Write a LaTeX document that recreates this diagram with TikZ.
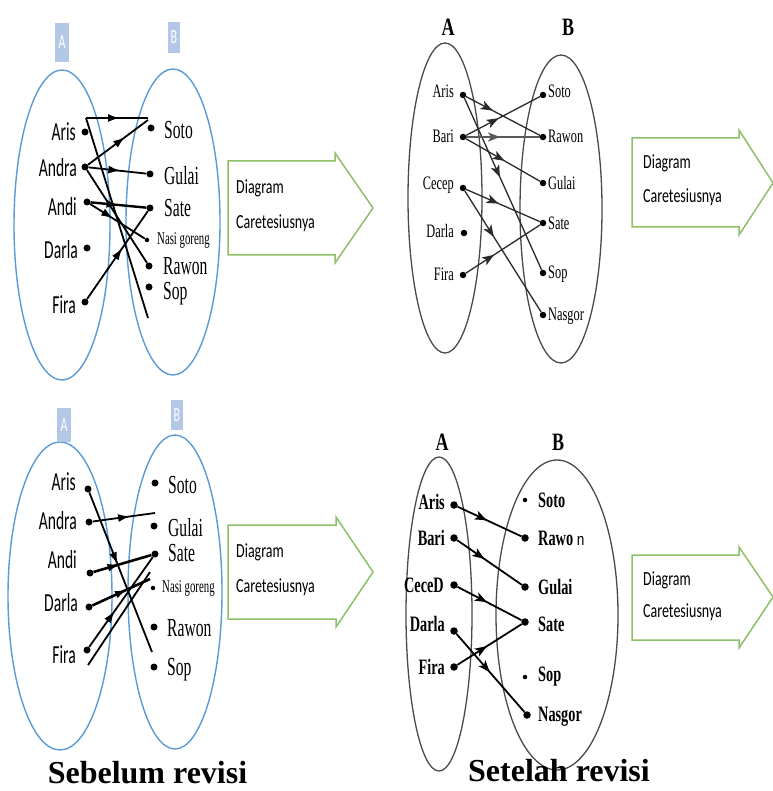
\documentclass[tikz,border=0pt]{standalone}
\usepackage{fontspec}
\usetikzlibrary{decorations.markings,arrows.meta}

% condensed faces for the set members and labels
\newfontfamily\lsans{Carlito}[FakeStretch=0.6]
\newfontfamily\boxsans{Carlito}[FakeStretch=0.7]
\newfontfamily\lserif{Liberation Serif}[FakeStretch=0.6]
\newfontfamily\rserif{Liberation Serif}[FakeStretch=0.65]
\newfontfamily\hserif{Liberation Serif}[FakeStretch=0.72]
\newfontfamily\tserif{Liberation Serif}
\newfontfamily\nsans{Liberation Sans}[FakeStretch=0.8]

\definecolor{vennblue}{HTML}{5B9BD5}
\definecolor{tagblue}{HTML}{B4C7E7}
\definecolor{arrowgreen}{HTML}{8CC168}
\definecolor{ringgray}{HTML}{4A4A4A}
\definecolor{linkgray}{HTML}{2A2A2A}

\tikzset{
  dot/.style={circle, fill=black, inner sep=0pt, minimum size=7pt},
  smalldot/.style={dot, minimum size=4.5pt},
  tag/.style={fill=tagblue, text=white, inner sep=0pt, minimum width=14pt,
    font=\lsans\fontsize{20}{20}\selectfont},
  lname/.style={anchor=east, inner sep=0pt, font=\lsans\fontsize{26}{26}\selectfont},
  rname/.style={anchor=west, inner sep=0pt, font=\lserif\fontsize{26}{26}\selectfont},
  nasi/.style={anchor=west, inner sep=0pt, font=\lserif\fontsize{18}{18}\selectfont},
  gname/.style={inner sep=0pt, font=\rserif\fontsize{19}{19}\selectfont},
  bname/.style={inner sep=0pt, font=\rserif\bfseries\fontsize{22}{22}\selectfont},
  head/.style={inner sep=0pt, font=\hserif\bfseries\fontsize{25}{25}\selectfont},
  boxtext/.style={anchor=west, inner sep=0pt, font=\boxsans\fontsize{20}{20}\selectfont},
  title/.style={anchor=base, inner sep=0pt, font=\tserif\bfseries\fontsize{32}{32}\selectfont},
  bluering/.style={draw=vennblue, line width=1.4pt},
  grayring/.style={draw=ringgray, line width=1.3pt},
  greenarrow/.style={draw=arrowgreen, line width=1.5pt, line join=miter},
  link/.style={draw=black, line width=1.8pt},
  glink/.style={draw=linkgray, line width=1.3pt},
  midarrow/.style={postaction={decorate}, decoration={markings,
    mark=at position #1 with {\arrow{Latex[length=12pt,width=8pt]}}}},
  midarrow/.default=0.5,
  stealthmid/.style={postaction={decorate}, decoration={markings,
    mark=at position #1 with {\arrow{Stealth[length=12pt,width=9pt,inset=3pt]}}}},
  stealthmid/.default=0.45,
}

\begin{document}
\begin{tikzpicture}[x=1pt, y=-1pt]
\useasboundingbox (0,0) rectangle (772,791);
\fill[white] (0,0) rectangle (772,791);

% ---------------- before revision, first version ----------------
\draw[bluering] (62,225) ellipse [x radius=48pt, y radius=155pt];
\draw[bluering] (173,222) ellipse [x radius=47pt, y radius=153pt];
\node[tag, minimum height=39pt] (tlTagA) at (62,42.5) {A};
\node[tag, minimum width=12pt, minimum height=31pt] (tlTagB) at (174,37.5) {B};

\node[lname] (tlArisT)  at (76,132) {Aris};
\node[lname] (tlAndraT) at (77,168) {Andra};
\node[lname] (tlAndiT)  at (77,207) {Andi};
\node[lname] (tlDarlaT) at (78,250) {Darla};
\node[lname] (tlFiraT)  at (76,305) {Fira};
\node[dot] (tlAris)  at (85,132) {};
\node[dot] (tlAndra) at (85,167) {};
\node[dot] (tlAndi)  at (87,202) {};
\node[dot] (tlDarla) at (87,248) {};
\node[dot] (tlFira)  at (85,302) {};

\node[rname] (tlSotoT)  at (164,130) {Soto};
\node[rname] (tlGulaiT) at (164,176) {Gulai};
\node[rname] (tlSateT)  at (164,208) {Sate};
\node[nasi]  (tlNasiT)  at (157,240) {Nasi goreng};
\node[rname] (tlRawonT) at (163,266) {Rawon};
\node[rname] (tlSopT)   at (163,294) {Sop};
\node[dot] (tlSoto)  at (151,128) {};
\node[dot] (tlGulai) at (150,174) {};
\node[dot] (tlSate)  at (150,208) {};
\node[smalldot] (tlNasi) at (147,240) {};
\node[dot] (tlRawon) at (149,266) {};
\node[dot] (tlSop)   at (149,287) {};

\coordinate (tlArisTop) at (86,118);
\coordinate (tlSotoTop) at (148,118);
\coordinate (tlSotoIn) at (148,120);
\coordinate (tlLowEnd) at (148,318);
\draw[link, line width=2.4pt, midarrow=0.55] (tlArisTop) -- (tlSotoTop);
\draw[link] (tlArisTop) -- (tlLowEnd);
\draw[link, midarrow=0.62] (tlAndra) -- (tlSotoIn);
\draw[link, midarrow=0.55] (tlAndra) -- (tlGulai);
\draw[link] (tlAndra) -- (tlRawon);
\draw[link, line width=2.4pt, midarrow=0.5] (tlAndi) -- (tlSate);
\draw[link, midarrow=0.42] (tlAndi) -- (tlNasi);
\draw[link, midarrow=0.58] (tlFira) -- (tlSate);

\draw[greenarrow] (228,161) -- (335,161) -- (335,153) -- (373,208)
  -- (335,263) -- (335,255) -- (228,255) -- cycle;
\node[boxtext] (tlBox1) at (236,188) {Diagram};
\node[boxtext] (tlBox2) at (236,223) {Caretesiusnya};

% ---------------- after revision, first version ----------------
\node[head] (trHeadA) at (448,27) {A};
\node[head] (trHeadB) at (568,27) {B};
\draw[grayring] (445,198) ellipse [x radius=37pt, y radius=155pt];
\draw[grayring] (561,209) ellipse [x radius=41pt, y radius=154pt];

\node[gname, anchor=east] (trArisT)  at (454,91) {Aris};
\node[gname, anchor=east] (trBariT)  at (454,136) {Bari};
\node[gname, anchor=east] (trCecepT) at (454,185) {Cecep};
\node[gname, anchor=east] (trDarlaT) at (454,231) {Darla};
\node[gname, anchor=east] (trFiraT)  at (454,274) {Fira};
\node[dot, minimum size=6.5pt] (trAris)  at (463,95) {};
\node[dot, minimum size=6.5pt] (trBari)  at (463,137) {};
\node[dot, minimum size=6.5pt] (trCecep) at (463,188) {};
\node[dot, minimum size=6.5pt] (trDarla) at (464,233) {};
\node[dot, minimum size=6.5pt] (trFira)  at (463,275) {};

\node[gname, anchor=west] (trSotoT)   at (548,91) {Soto};
\node[gname, anchor=west] (trRawonT)  at (548,136) {Rawon};
\node[gname, anchor=west] (trGulaiT)  at (548,183) {Gulai};
\node[gname, anchor=west] (trSateT)   at (548,223) {Sate};
\node[gname, anchor=west] (trSopT)    at (548,274) {Sop};
\node[gname, anchor=west] (trNasgorT) at (548,316) {Nasgor};
\node[dot, minimum size=6.5pt] (trSoto)   at (543,95) {};
\node[dot, minimum size=6.5pt] (trRawon)  at (543,137) {};
\node[dot, minimum size=6.5pt] (trGulai)  at (543,183) {};
\node[dot, minimum size=6.5pt] (trSate)   at (543,223) {};
\node[dot, minimum size=6.5pt] (trSop)    at (543,273) {};
\node[dot, minimum size=6.5pt] (trNasgor) at (543,315) {};

\draw[glink, stealthmid=0.36] (trAris) -- (trRawon);
\draw[glink, stealthmid=0.46] (trAris) -- (trSop);
\draw[glink, stealthmid=0.44] (trBari) -- (trSoto);
\draw[glink, draw=gray!70!black, line width=2.4pt, stealthmid=0.46] (trBari) -- (trRawon);
\draw[glink, stealthmid=0.52] (trBari) -- (trGulai);
\draw[glink, stealthmid=0.44] (trCecep) -- (trSate);
\draw[glink, stealthmid=0.38] (trCecep) -- (trNasgor);
\draw[glink, stealthmid=0.38] (trFira) -- (trSate);

\draw[greenarrow] (632,138) -- (739,138) -- (739,130) -- (773,183)
  -- (739,235) -- (739,227) -- (632,227) -- cycle;
\node[boxtext] (trBox1) at (643,163) {Diagram};
\node[boxtext] (trBox2) at (643,197) {Caretesiusnya};

% ---------------- before revision, second version ----------------
\draw[bluering] (60,596) ellipse [x radius=52pt, y radius=154pt];
\draw[bluering] (175,592) ellipse [x radius=47pt, y radius=157pt];
\node[tag, minimum height=34pt] (blTagA) at (64,425) {A};
\node[tag, minimum width=12pt, minimum height=30pt] (blTagB) at (177,415) {B};

\node[lname] (blArisT)  at (76,482) {Aris};
\node[lname] (blAndraT) at (77,521) {Andra};
\node[lname] (blAndiT)  at (77,560) {Andi};
\node[lname] (blDarlaT) at (78,603) {Darla};
\node[lname] (blFiraT)  at (76,655) {Fira};
\node[dot] (blAris)  at (88,489) {};
\node[dot] (blAndra) at (89,522) {};
\node[dot] (blAndi)  at (90,573) {};
\node[dot] (blDarla) at (89,607) {};
\node[dot] (blFira)  at (87,650) {};

\node[rname] (blSotoT)  at (168,485) {Soto};
\node[rname] (blGulaiT) at (168,528) {Gulai};
\node[rname] (blSateT)  at (168,553) {Sate};
\node[nasi]  (blNasiT)  at (162,588) {Nasi goreng};
\node[rname] (blRawonT) at (167,628) {Rawon};
\node[rname] (blSopT)   at (167,670) {Sop};
\node[dot] (blSoto)  at (155,483) {};
\node[dot] (blGulai) at (154,526) {};
\node[dot] (blSate)  at (155,554) {};
\node[smalldot] (blNasi) at (153,588) {};
\node[dot] (blRawon) at (154,627) {};
\node[dot] (blSop)   at (154,667) {};

\coordinate (blEndA) at (152,652);
\coordinate (blEndB) at (155,513);
\coordinate (blEndC) at (150,579);
\coordinate (blFiraLow) at (88,665);
\coordinate (blEndD) at (150,572);
\draw[link, midarrow=0.45] (blAris) -- (blEndA);
\draw[link, midarrow=0.6] (blAndra) -- (blEndB);
\draw[link, line width=2.6pt, midarrow=0.45] (blAndi) -- (blSate);
\draw[link, line width=2.6pt, midarrow=0.6] (blDarla) -- (blEndC);
\draw[link, midarrow=0.4] (blFira) -- (blSate);
\draw[link] (blFiraLow) -- (blEndD);

\draw[greenarrow] (228,525) -- (336,525) -- (336,517) -- (373,572)
  -- (336,627) -- (336,619) -- (228,619) -- cycle;
\node[boxtext] (blBox1) at (236,552) {Diagram};
\node[boxtext] (blBox2) at (236,587) {Caretesiusnya};

% ---------------- after revision, second version ----------------
\node[head] (brHeadA) at (442,442) {A};
\node[head] (brHeadB) at (558,442) {B};
\draw[grayring] (439,614) ellipse [x radius=33pt, y radius=157pt];
\draw[grayring] (557,615) ellipse [x radius=61pt, y radius=155pt];

\node[bname, anchor=east] (brArisT)  at (445,502) {Aris};
\node[bname, anchor=east] (brBariT)  at (445,538) {Bari};
\node[bname, anchor=east] (brCeceT)  at (444,585) {CeceD};
\node[bname, anchor=east] (brDarlaT) at (445,624) {Darla};
\node[bname, anchor=east] (brFiraT)  at (445,667) {Fira};
\node[dot, minimum size=7.5pt] (brAris)  at (454,505) {};
\node[dot, minimum size=7.5pt] (brBari)  at (454,538) {};
\node[dot, minimum size=7.5pt] (brCece)  at (454,585) {};
\node[dot, minimum size=7.5pt] (brDarla) at (454,631) {};
\node[dot, minimum size=7.5pt] (brFira)  at (454,667) {};

\node[bname, anchor=west] (brSotoT)   at (538,500) {Soto};
\node[bname, anchor=west] (brRawonT)  at (538,538) {Rawo\,{\nsans\mdseries\fontsize{17}{17}\selectfont n}};
\node[bname, anchor=west] (brGulaiT)  at (538,587) {Gulai};
\node[bname, anchor=west] (brSateT)   at (538,624) {Sate};
\node[bname, anchor=west] (brSopT)    at (538,677) {Sop};
\node[bname, anchor=west] (brNasgorT) at (538,717) {Nasgor};
\node[smalldot] (brSoto)   at (525,500) {};
\node[dot, minimum size=7.5pt] (brRawon)  at (525,538) {};
\node[dot, minimum size=7.5pt] (brGulai)  at (525,587) {};
\node[dot, minimum size=7.5pt] (brSate)   at (525,622) {};
\node[smalldot] (brSop)    at (525,677) {};
\node[dot, minimum size=7.5pt] (brNasgor) at (527,715) {};

\draw[link, line width=1.8pt, stealthmid=0.46] (brAris) -- (brRawon);
\draw[link, line width=1.8pt, stealthmid=0.42] (brBari) -- (brGulai);
\draw[link, line width=1.8pt, stealthmid=0.46] (brCece) -- (brSate);
\draw[link, line width=1.8pt, stealthmid=0.46] (brFira) -- (brSate);
\draw[link, line width=1.8pt, stealthmid=0.49] (brDarla) -- (brNasgor);

\draw[greenarrow] (632,555) -- (739,555) -- (739,547) -- (773,597)
  -- (739,648) -- (739,640) -- (632,640) -- cycle;
\node[boxtext] (brBox1) at (643,580) {Diagram};
\node[boxtext] (brBox2) at (643,612) {Caretesiusnya};

% ---------------- captions ----------------
\node[title] (capBefore) at (147.5,783) {Sebelum revisi};
\node[title] (capAfter)  at (559,781) {Setelah revisi};
\end{tikzpicture}
\end{document}
